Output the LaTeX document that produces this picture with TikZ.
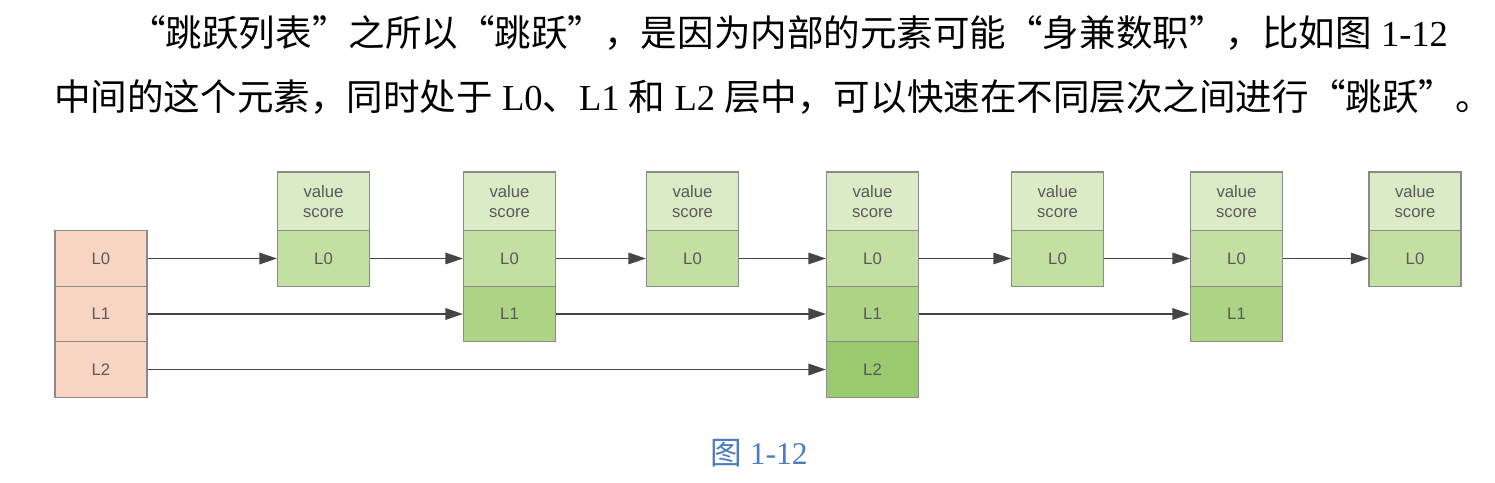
\documentclass[tikz,border=0pt]{standalone}
\usepackage{fontspec}
\setmainfont{Liberation Serif}
\newfontfamily\cjk{Noto Sans CJK SC}
\newfontfamily\lblfont{Liberation Sans}
\usepackage{xcolor}
\usetikzlibrary{arrows.meta,positioning}

\definecolor{headfill}{HTML}{F8D5C3}
\definecolor{valfill}{HTML}{DAEBC6}
\definecolor{lv0}{HTML}{C3DFA1}
\definecolor{lv1}{HTML}{ACD484}
\definecolor{lv2}{HTML}{9ACA6E}
\definecolor{edgegray}{HTML}{8A8A8A}
\definecolor{arrowgray}{HTML}{454545}
\definecolor{capblue}{HTML}{4C7BBE}

\tikzset{
  cell/.style={draw=edgegray, line width=0.6pt, minimum width=1.84cm,
    minimum height=1.11cm, inner sep=0pt, text=black!65,
    font=\lblfont\fontsize{9.5}{11}\selectfont},
  valcell/.style={cell, fill=valfill, minimum height=1.18cm, align=center},
  headcell/.style={cell, fill=headfill},
  link/.style={-{Triangle[length=10pt,width=6.5pt]}, draw=arrowgray, fill=arrowgray, line width=1.1pt},
  thinlink/.style={link, line width=0.8pt}
}

\begin{document}
\begin{tikzpicture}[x=0.02cm, y=-0.02cm]
\useasboundingbox (0,0) rectangle (1495,483);

% =====================
% Text above
% =====================
\node[anchor=base west, inner sep=0pt, font=\fontsize{20.8}{24}\selectfont] (line1) at (129,47)
  {{\cjk “跳跃列表”之所以“跳跃”，是因为内部的元素可能“身兼数职”，比如图} 1-12};
\node[anchor=base west, inner sep=0pt, font=\fontsize{20.8}{24}\selectfont] (line2) at (54,111)
  {{\cjk 中间的这个元素，同时处于} L0{\cjk 、}L1 {\cjk 和} L2 {\cjk 层中，可以快速在不同层次之间进行“跳跃”。}};

% =====================
% Head node
% =====================
\foreach \l in {0,1,2}
    \node[headcell] (h\l) at (101,258.5+55.5*\l) {L\l};

% =====================
% Elements (value/score + levels)
% =====================
\foreach \i/\x/\top in {1/323.5/0, 2/509.5/1, 3/692.5/0, 4/872.5/2, 5/1057.5/0, 6/1236.5/1, 7/1415/0} {
    \node[valcell] (n\i v) at (\x,201.5) {value\\score};
    \foreach \l in {0,...,\top}
        \node[cell, fill=lv\l] (n\i-\l) at (\x,258.5+55.5*\l) {L\l};
}

% =====================
% Level 0 links
% =====================
\draw[link] (h0) -- (n1-0);
\foreach \a/\b in {1/2, 2/3, 3/4, 4/5, 5/6, 6/7}
    \draw[thinlink] (n\a-0) -- (n\b-0);

% =====================
% Level 1 and 2 links
% =====================
\draw[link] (h1) -- (n2-1);
\draw[link] (n2-1) -- (n4-1);
\draw[link] (n4-1) -- (n6-1);
\draw[link] (h2) -- (n4-2);

% =====================
% Caption
% =====================
\node[anchor=base, inner sep=0pt, text=capblue, font=\fontsize{18}{21}\selectfont] (cap) at (759,464)
  {{\cjk 图} 1-12};

\end{tikzpicture}
\end{document}
